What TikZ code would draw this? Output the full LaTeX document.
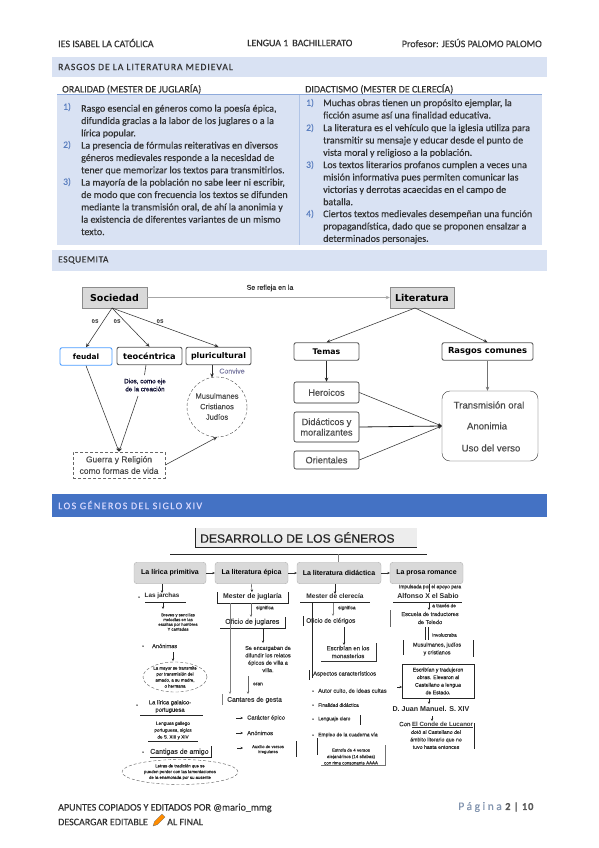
\documentclass[tikz,border=0pt]{standalone}
\usepackage{fontspec}
\usetikzlibrary{arrows.meta,shapes.geometric}
\setmainfont[FakeBold=0.35]{Carlito}
\newfontfamily\hv[FakeBold=0.3]{Liberation Sans}
\newfontfamily\hvb{Liberation Sans Bold}
\newfontfamily\dv{DejaVu Sans}
\definecolor{band}{HTML}{D9E2F3}
\definecolor{rule}{HTML}{8EAADB}
\definecolor{blueband}{HTML}{4472C4}
\definecolor{num}{HTML}{5B7FC0}
\definecolor{boxg}{HTML}{D9D9D9}
\definecolor{pagec}{HTML}{8496B0}
\tikzset{
 x=1pt,y=-1pt,
 >={Stealth[length=4pt,width=3.5pt]},
 sm/.style={>={Stealth[length=2.5pt,width=2.4pt]}},
 body/.style={anchor=north west,inner sep=0,align=left,font=\fontsize{10}{12.35}\selectfont,text=black!80},
 head/.style={anchor=west,inner sep=0,font=\fontsize{10}{12}\selectfont,text=black!80},
 nm/.style={anchor=west,inner sep=0,font=\fontsize{9.5}{10}\selectfont,text=num},
 mainbox/.style={draw=black!45,fill=boxg,minimum width=#1,minimum height=21pt,inner sep=0,font=\dv\fontsize{9.5}{10}\selectfont\bfseries},
 rbox/.style={draw=black!65,line width=.9pt,rounded corners=2pt,minimum height=17.5pt,inner sep=0},
 pbox/.style={draw=black!85,line width=.6pt,rounded corners=2pt,inner sep=0,font=\hv\fontsize{9.2}{10.5}\selectfont,align=center,text=black!70},
 genbox/.style={draw=black!30,fill=boxg,rounded corners=3pt,minimum height=21.5pt,inner sep=0,font=\hvb\fontsize{7}{7}\selectfont},
 tx/.style={inner sep=0,align=center,font=\hv\fontsize{4.6}{6.8}\selectfont,text=black!80},
 txb/.style={inner sep=0,align=center,font=\hvb\fontsize{5.4}{7.5}\selectfont,text=black!85},
 lb/.style={inner sep=0,anchor=west,font=\hv\fontsize{4.8}{7}\selectfont,text=black!80},
 bar/.style={line width=.9pt,black!85},
 gbar/.style={line width=1pt,black!50},
 dot/.style={circle,fill=black,inner sep=0,minimum size=1.5pt},
 conn/.style={->,black!80,line width=.55pt},
 lab/.style={inner sep=0,font=\hv\fontsize{6.4}{7}\selectfont,text=black!70},
}
\begin{document}
\begin{tikzpicture}
\useasboundingbox (0,0) rectangle (599,848);
\fill[white] (0,0) rectangle (599,848);
% header
\node[head] (h1) at (58,43) {IES ISABEL LA CATÓLICA};
\node[head] (h2) at (247,43) {LENGUA 1\, BACHILLERATO};
\node[head,anchor=east] (h3) at (542,43) {Profesor: JESÚS PALOMO PALOMO};
% bands
\fill[band] (52,57) rectangle (547,77);
\node[head,font=\fontsize{9.6}{10}\selectfont\addfontfeature{LetterSpace=10}] (b1) at (58,67) {RASGOS DE LA LITERATURA MEDIEVAL};
\node[head] (c1) at (62,89) {ORALIDAD (MESTER DE JUGLARÍA)};
\node[head] (c2) at (305,89) {DIDACTISMO (MESTER DE CLERECÍA)};
\fill[band] (57,95) rectangle (542,245);
\draw[rule,line width=.9pt] (57,94.6) -- (542,94.6);
\draw[rule!70,line width=.5pt] (299.5,95) -- (299.5,245);
\fill[band] (52,250) rectangle (547,271);
\node[head,font=\fontsize{9.6}{10}\selectfont\addfontfeature{LetterSpace=5}] (b2) at (58,260) {ESQUEMITA};
% left column
\node[nm] (n1) at (63,107) {1)};
\node[nm] (n2) at (63,145) {2)};
\node[nm] (n3) at (63,182) {3)};
\node[body] (t1) at (81,104.5) {Rasgo esencial en géneros como la poesía épica,\\difundida gracias a la labor de los juglares o a la\\lírica popular.};
\node[body] (t2) at (81,141.5) {La presencia de fórmulas reiterativas en diversos\\géneros medievales responde a la necesidad de\\tener que memorizar los textos para transmitirlos.};
\node[body] (t3) at (81,178.5) {La mayoría de la población no sabe leer ni escribir,\\de modo que con frecuencia los textos se difunden\\mediante la transmisión oral, de ahí la anonimia y\\la existencia de diferentes variantes de un mismo\\texto.};
% right column
\node[nm] (m1) at (306,103) {1)};
\node[nm] (m2) at (306,128) {2)};
\node[nm] (m3) at (306,165) {3)};
\node[nm] (m4) at (306,214) {4)};
\node[body] (r1) at (323,99) {Muchas obras tienen un propósito ejemplar, la\\ficción asume así una finalidad educativa.};
\node[body] (r2) at (323,124) {La literatura es el vehículo que la iglesia utiliza para\\transmitir su mensaje y educar desde el punto de\\vista moral y religioso a la población.};
\node[body] (r3) at (323,161) {Los textos literarios profanos cumplen a veces una\\misión informativa pues permiten comunicar las\\victorias y derrotas acaecidas en el campo de\\batalla.};
\node[body] (r4) at (323,210) {Ciertos textos medievales desempeñan una función\\propagandística, dado que se proponen ensalzar a\\determinados personajes.};
% esquemita left
\node[mainbox=65pt] (soc) at (114.5,297.5) {Sociedad};
\node[mainbox=64pt] (lit) at (422,297.5) {Literatura};
\draw[->,black!35,line width=.7pt] (soc.east) -- (lit.west);
\node[lab,font=\hv\fontsize{7}{7}\selectfont,text=black!80] (refl) at (270,288) {Se refleja en la};
\node[rbox,draw=blue!55!cyan!70,minimum width=52pt,font=\dv\fontsize{7.4}{9}\selectfont\bfseries] (feu) at (86,356.5) {feudal};
\node[rbox,minimum width=65pt,font=\dv\fontsize{8.2}{9}\selectfont\bfseries] (teo) at (149.5,356) {teocéntrica};
\node[rbox,minimum width=65pt,font=\dv\fontsize{7.9}{9}\selectfont\bfseries] (plu) at (218.5,356) {pluricultural};
\coordinate (socb) at (112,308);
\draw[conn] (socb) -- (feu.north);
\draw[conn] (socb) -- (teo.north);
\draw[conn] (socb) -- (plu.north);
\node[lab] (es1) at (95,321) {es};
\node[lab] (es2) at (117,321) {es};
\node[lab] (es3) at (160,321) {es};
\node[draw=black!70,densely dashed,line width=.4pt,circle,minimum size=60pt,inner sep=0] (mus) at (217,407) {};
\node[inner sep=0,align=center,font=\hv\fontsize{7.6}{10.5}\selectfont,text=black!70] (mustx) at (217,406.5) {Musulmanes\\Cristianos\\Judíos};
\coordinate (plub) at (212,365);
\coordinate (must) at (212,377.5);
\draw[conn] (plub) -- (must);
\node[inner sep=0,font=\hv\fontsize{7}{7}\selectfont,text=blue!30!black!50] (conv) at (232,371) {Convive};
\node[draw=black!60,densely dashed,line width=.5pt,minimum width=92pt,minimum height=26pt,inner sep=0,align=center,font=\hv\fontsize{8.5}{11.5}\selectfont,text=black!70] (gue) at (119,465) {Guerra y Religión\\como formas de vida};
\node[inner sep=0,align=center,font=\hv\fontsize{6.3}{8}\selectfont,text=black!85!blue] (dios) at (145,385) {Dios, como eje\\de la creación};
\coordinate (teob) at (146,365);
\coordinate (diosb) at (138,396);
\draw[black!80,line width=.55pt] (teob) -- (144.5,375);
\draw[conn] (diosb) -- (gue.north);
\draw[conn] (feu.south) -- (gue.north);
\draw[conn] (gue.east) -- (mus.south);
% esquemita right
\node[rbox,minimum width=65pt,font=\dv\fontsize{7.8}{9}\selectfont\bfseries] (tem) at (326.5,351.5) {Temas};
\node[rbox,minimum width=91pt,font=\dv\fontsize{8.4}{9}\selectfont\bfseries] (ras) at (487.5,351.5) {Rasgos comunes};
\coordinate (litb) at (415,308);
\draw[conn] (litb) -- (tem.north);
\draw[conn] (litb) -- (ras.north);
\node[pbox,minimum width=65pt,minimum height=21pt] (her) at (326.5,392.5) {Heroicos};
\node[pbox,minimum width=65pt,minimum height=30pt] (did) at (326.5,427) {Didácticos y\\moralizantes};
\node[pbox,minimum width=65pt,minimum height=18pt] (ori) at (326.5,460) {Orientales};
\node[draw=black!80,rounded corners=8pt,minimum width=96pt,minimum height=70pt,inner sep=0] (big) at (490,426) {};
\node[inner sep=0,font=\hv\fontsize{9.6}{10}\selectfont,text=black!70] (tr1) at (489,405) {Transmisión oral};
\node[inner sep=0,font=\hv\fontsize{9.6}{10}\selectfont,text=black!70] (tr2) at (487,426) {Anonimia};
\node[inner sep=0,font=\hv\fontsize{9.6}{10}\selectfont,text=black!70] (tr3) at (491,448) {Uso del verso};
\draw[conn,black!85,line width=.6pt] (tem.south) -- (her.north);
\draw[conn,black!55,line width=.6pt] (ras.south) -- (big.north -| ras.south);
\draw[conn] (her.east) -- (big.west);
\draw[conn,black!90,line width=.8pt] (did.east) -- (big.west);
\draw[conn] (ori.east) -- (big.west);
% blue band
\fill[blueband] (52,494) rectangle (547,517);
\node[head,text=white!85!blue,font=\fontsize{10}{10}\selectfont\addfontfeature{LetterSpace=14}] (b3) at (58,505) {LOS GÉNEROS DEL SIGLO XIV};
% title
\node[fill=black!7,minimum width=221pt,minimum height=19pt,inner sep=0] (tit) at (306.5,537.5) {};
\node[anchor=west,inner sep=0,font=\hv\fontsize{12.1}{14}\selectfont,text=black!85] (tit2) at (200,537.5) {DESARROLLO DE LOS GÉNEROS};
\draw[line width=.7pt,black!85] (tit.north west) -- (tit.south west) -- (tit.south east);
\draw[line width=.7pt,black!85] (170,554) -- (427,554);
\draw[line width=.6pt,black!50] (338,554) -- (338,562);
% genre boxes
\node[genbox,minimum width=72pt] (g1) at (170,573) {La lírica primitiva};
\node[genbox,minimum width=73pt] (g2) at (251.5,573) {La literatura épica};
\node[genbox,minimum width=84pt] (g3) at (339,573) {La literatura didáctica};
\node[genbox,minimum width=73pt] (g4) at (426.5,573) {La prosa romance};
\foreach \a/\b in {g1/g2,g2/g3,g3/g4}{\draw[sm,->,black!80,line width=.4pt] (\a.east) -- (\b.west);}
% column 1
\node[txb,font=\hvb\fontsize{6.3}{7}\selectfont] (j1) at (162,596) {Las jarchas};
\node[dot] (d1) at (139,597) {};
\draw[sm,->,black!85,line width=.4pt] (g1.south -| j1.north) -- (j1.north);
\draw[line width=.6pt,black!85] (145,602) -- (186,602);
\coordinate (j1b) at (163,602);
\node[tx,font=\hv\fontsize{4.2}{4.8}\selectfont] (j2) at (178,622) {Breves y sencillas\\melodías en las\\escritas por hombres\\Y cantadas};
\draw[sm,->,black!85,line width=.4pt] (j1b) -- (163,609);
\node[lb,font=\hv\fontsize{5.6}{7}\selectfont] (j3) at (152,646) {Anónimas};
\node[dot] (d2) at (143,646) {};
\node[draw=black!65,densely dashed,line width=.4pt,ellipse,minimum width=64pt,minimum height=30pt,inner sep=0,align=center,font=\hv\fontsize{4.4}{6}\selectfont,text=black!85] (j4) at (175,677) {La mayor se transmite\\por transmisión del\\amado, a su madre,\\o hermana};
\draw[sm,->,black!85,line width=.4pt] (173,652) -- (173,661);
\node[txb,font=\hv\fontsize{5.8}{7.4}\selectfont] (lg) at (170,706.5) {La lírica galaico-\\portuguesa};
\node[dot] (d3) at (137,705) {};
\draw[line width=.7pt,black!85] (140,715.5) -- (203,715.5);
\node[tx] (lg2) at (173,730.5) {Lenguas gallego\\portuguesa, siglos\\de S. XIII y XIV};
\draw[line width=.7pt,black!85] (148,741) -- (198,741);
\node[lb,font=\hv\fontsize{7}{7}\selectfont] (ca) at (150,752) {Cantigas de amigo};
\node[dot] (d4) at (143,752) {};
\draw[line width=.7pt,black!85] (150,757.5) -- (211,757.5) -- (211,746);
\node[draw=black!65,densely dashed,line width=.4pt,ellipse,minimum width=116pt,minimum height=25pt,inner sep=0,align=center,font=\hv\fontsize{4.3}{5.8}\selectfont,text=black!85] (ce) at (180,772) {Letras de tradición que se\\pueden perder con las lamentaciones\\de la enamorada por su ausente};
% column 2
\node[txb,font=\hvb\fontsize{6.9}{7}\selectfont] (m1a) at (252.5,597) {Mester de juglaría};
\draw[bar] (217,592) -- (217,603) -- (288,603) -- (288,592);
\draw[sm,->,black!85,line width=.4pt] (g2.south) -- (252,592);
\coordinate (mb) at (251,603);
\node[lb] (sig1) at (256,608) {significa};
\node[lb,font=\hv\fontsize{7}{7}\selectfont] (of1) at (225,622) {Oficio de juglares};
\draw[sm,->,black!60,line width=.8pt] (mb) -- (251,617);
\draw[line width=.7pt,black!85] (220,628) -- (285,628) -- (285,617);
\node[tx,font=\hv\fontsize{5.6}{7.4}\selectfont] (se) at (268,659) {Se encargaban de\\difundir los relatos\\épicos de villa a\\villa.};
\draw[line width=.7pt,black!85,sm,->] (263,628) -- (263,643);
\node[lb,font=\hv\fontsize{6.7}{7}\selectfont] (can) at (227,700) {Cantares de gesta};
\draw[gbar] (222.5,694) -- (222.5,705);
\draw[sm,->,gbar] (230,603) -- (230,694);
\draw[sm,->,black!60,line width=.7pt] (248,676) -- (248,694);
\node[lb] (era) at (253,684) {eran};
\foreach \yy/\nn/\tt in {718/ca1/Carácter épico,733/ca2/Anónimos}{
  \node[lb,font=\hv\fontsize{5.8}{7}\selectfont] (\nn) at (247,\yy) {\tt};
  \coordinate (\nn a) at (236,\yy);
  \draw[sm,->,black!85,line width=.4pt] (\nn a) -- (243,\yy);
}
\node[tx,font=\hv\fontsize{4.2}{5}\selectfont] (ca3) at (268,749.5) {Auxilio de versos\\irregulares};
\draw[sm,->,black!85,line width=.4pt] (237,748) -- (243,748);
\draw[bar] (296,741) -- (296,757);
% column 3
\node[txb,font=\hvb\fontsize{6.6}{7}\selectfont] (m2a) at (335,596.5) {Mester de clerecía};
\draw[line width=.7pt,black!85] (300,602.5) -- (370,602.5);
\draw[sm,->,black!85,line width=.4pt] (g3.south -| m2a.north) -- (m2a.north);
\node[lb] (sig2) at (338,608) {significa};
\draw[sm,->,gbar,line width=.7pt] (333,603) -- (333,616);
\node[lb,font=\hv\fontsize{6.4}{7}\selectfont] (of2) at (306,621) {Oficio de clérigos};
\draw[bar] (303,616) -- (303,626);
\draw[bar] (312,603) -- (312,678);
\node[tx,font=\hv\fontsize{6}{7.8}\selectfont] (esc) at (348,652) {Escribían en los\\monasterios};
\draw[bar,line width=.7pt,sm,->] (344,627) -- (344,645);
\draw[line width=.8pt,black!80] (321,661) -- (376,661) -- (376,643);
\node[lb,font=\hv\fontsize{5.8}{7}\selectfont] (asp) at (313,674) {Aspectos característicos};
\draw[bar] (309,670) -- (309,680);
\node[lb,font=\hv\fontsize{5.7}{7}\selectfont] (a1) at (318,691) {Autor culto, de ideas cultas};
\node[lb,font=\hv\fontsize{4.9}{7}\selectfont] (a2) at (318,705) {Finalidad didáctica};
\node[lb,font=\hv\fontsize{4.9}{7}\selectfont] (a3) at (318,719) {Lenguaje claro};
\node[lb,font=\hv\fontsize{5}{7}\selectfont] (a4) at (318,735) {Empleo de la cuaderna vía};
\foreach \yy/\nn in {691/e1,705/e2,719/e3,735/e4}{\node[dot] (\nn) at (313,\yy) {};}
\draw[bar] (360,715) -- (360,725);
\node[tx,font=\hv\fontsize{4.4}{6.4}\selectfont] (est) at (351,756.5) {Estrofa de 4 versos\\alejandrinos (14 sílabas)\\con rima consonante AAAA};
\draw[bar,line width=.6pt] (317,738) -- (317,755);
\draw[line width=1pt,black!55] (321,765.5) -- (385,765.5) -- (385,745);
% column 4
\node[tx,font=\hv\fontsize{4.9}{7}\selectfont] (imp) at (430,587) {Impulsada por el apoyo para};
\node[txb,font=\hvb\fontsize{7}{7}\selectfont] (alf) at (428,596) {Alfonso X el Sabio};
\draw[line width=.7pt,black!85] (393,602.5) -- (462,602.5);
\draw[line width=.4pt,black!85] (429,584) -- (429,592);
\node[tx,font=\hv\fontsize{5.6}{8}\selectfont] (tol) at (430,618) {Escuela de traductores\\de Toledo};
\draw[sm,->,black!85,line width=.5pt] (429,603) -- (429,610);
\node[lb] (atr) at (432,605.5) {a través de};
\draw[gbar,black!60] (390,610) -- (390,627);
\draw[bar,line width=.5pt] (425,627) -- (425,640);
\draw[bar,line width=.5pt] (428,627) -- (428,640);
\node[lb] (inv) at (432,635) {involucraba};
\node[tx,font=\hv\fontsize{5.4}{7.8}\selectfont] (mul) at (437,649) {Musulmanes, judíos\\y cristianos};
\draw[bar] (403,640) -- (403,655);
\draw[bar] (473,640) -- (473,657);
\node[draw=black!85,line width=.9pt,minimum width=72pt,minimum height=34pt,inner sep=0,align=center,font=\hv\fontsize{5.2}{7.6}\selectfont,text=black!85] (esb) at (438,681) {Escribían y tradujeron\\obras. Elevaron al\\Castellano a lengua\\de Estado.};
\draw[sm,->,black!85,line width=.4pt] (397,687) -- (402,687);
\node[txb,font=\hvb\fontsize{7.1}{7}\selectfont] (jua) at (431,709) {D. Juan Manuel. S. XIV};
\draw[sm,->,black!85,line width=.5pt] (429,698) -- (429,704);
\draw[sm,->,black!85,line width=.5pt] (432,716) -- (432,721);
\node[lb,font=\hv\fontsize{6.1}{7}\selectfont] (con) at (399,725) {Con {\hvb\underline{El Conde de Lucanor}}};
\node[tx,font=\hv\fontsize{5.2}{7.5}\selectfont] (con2) at (436,739.5) {dotó al Castellano del\\ámbito literario que no\\tuvo hasta entonces};
\draw[bar] (474,723) -- (474,749);
% footer
\node[head] (f1) at (58,808) {APUNTES COPIADOS Y EDITADOS POR @mario\_mmg};
\node[head] (f2) at (58,822) {DESCARGAR EDITABLE};
\node[head] (f3) at (167,822) {AL FINAL};
\fill[orange!90!yellow] (153,826) -- (154.5,821.5) -- (162,814) -- (165,817) -- (157.5,824.5) -- cycle;
\draw[black!60,line width=.3pt] (153,826) -- (154.5,821.5) -- (162,814) -- (165,817) -- (157.5,824.5) -- cycle;
\node[anchor=east,inner sep=0,font=\fontsize{11.5}{12}\selectfont\addfontfeature{LetterSpace=22},text=pagec] (pg) at (502,807) {Página};
\node[anchor=west,inner sep=0,font=\fontsize{10.5}{12}\selectfont\bfseries\addfontfeature{LetterSpace=8},text=black!65] (pn) at (505,807) {2 | 10};
\end{tikzpicture}
\end{document}
